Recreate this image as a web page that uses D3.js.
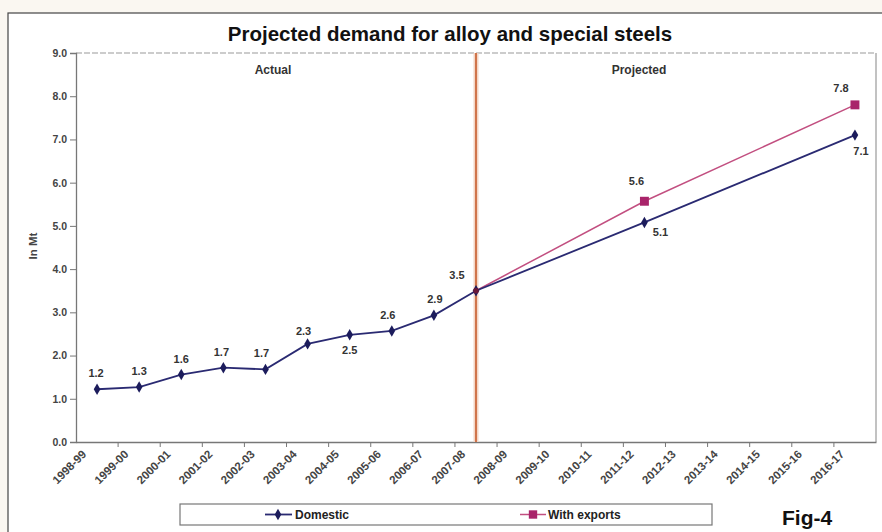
<!DOCTYPE html>
<html>
<head>
<meta charset="utf-8">
<script src="https://cdn.jsdelivr.net/npm/d3@7"></script>
<style>
  html, body { margin: 0; padding: 0; background: #faf7f1; }
  svg { display: block; }
  text { font-family: "Liberation Sans", Arial, sans-serif; }
</style>
</head>
<body>
<svg id="chart" width="882" height="532"></svg>
<script>
const categories = ["1998-99","1999-00","2000-01","2001-02","2002-03","2003-04","2004-05","2005-06","2006-07","2007-08","2008-09","2009-10","2010-11","2011-12","2012-13","2013-14","2014-15","2015-16","2016-17"];
const domestic = [1.22, 1.27, 1.56, 1.72, 1.68, 2.27, 2.48, 2.57, 2.93, 3.5, null, null, null, 5.08, null, null, null, null, 7.1];
const domesticLabels = ["1.2","1.3","1.6","1.7","1.7","2.3","2.5","2.6","2.9","3.5",null,null,null,"5.1",null,null,null,null,"7.1"];
const withExports = [null, null, null, null, null, null, null, null, null, 3.5, null, null, null, 5.57, null, null, null, null, 7.8];
const exportLabels = [null,null,null,null,null,null,null,null,null,null,null,null,null,"5.6",null,null,null,null,"7.8"];
const yTicks = [0,1,2,3,4,5,6,7,8,9];
const dividerCategory = "2007-08";

const svg = d3.select("#chart");
const L = 76, R = 876, T = 53, B = 442;
const FONT = "'Liberation Sans', Arial, sans-serif";

// outer frame
svg.append("rect").attr("x", 8).attr("y", 13).attr("width", 880).attr("height", 530)
  .attr("fill", "#ffffff").attr("stroke", "#444").attr("stroke-width", 1.2);

svg.append("text").attr("x", 450).attr("y", 41).attr("text-anchor", "middle")
  .attr("font-size", 20.5).attr("font-weight", "bold").attr("fill", "#111")
  .text("Projected demand for alloy and special steels");

const x = d3.scaleBand().domain(categories).range([L, R]).padding(0);
const y = d3.scaleLinear().domain([0, 9]).range([B, T]);
const cx = c => x(c) + x.bandwidth() / 2;

// plot frame
svg.append("line").attr("x1", L).attr("x2", R).attr("y1", T).attr("y2", T)
  .attr("stroke", "#999").attr("stroke-width", 1.2).attr("stroke-dasharray", "6,2");
svg.append("line").attr("x1", R).attr("x2", R).attr("y1", T).attr("y2", B)
  .attr("stroke", "#999").attr("stroke-width", 1.2);

// y axis
const yAxis = svg.append("g").attr("transform", `translate(${L},0)`)
  .call(d3.axisLeft(y).tickValues(yTicks).tickFormat(d3.format(".1f")).tickSize(6).tickPadding(3));
yAxis.select(".domain").attr("stroke", "#777").attr("stroke-width", 1.3);
yAxis.selectAll(".tick line").attr("stroke", "#777");
yAxis.selectAll(".tick text").attr("font-size", 10.5).attr("font-weight", "bold").attr("fill", "#444")
  .attr("font-family", FONT);

// x axis
const xAxis = svg.append("g").attr("transform", `translate(0,${B})`)
  .call(d3.axisBottom(x).tickSize(0).tickPadding(0));
xAxis.select(".domain").attr("stroke", "#777").attr("stroke-width", 1.3);
xAxis.selectAll(".tick text")
  .attr("font-size", 11.5).attr("font-weight", "bold").attr("fill", "#444")
  .attr("font-family", FONT)
  .attr("text-anchor", "end").attr("dy", 0)
  .attr("transform", "translate(-10,13) rotate(-45)");
// tick marks at band edges
svg.append("g").selectAll("line").data(categories.slice(1)).join("line")
  .attr("x1", d => x(d)).attr("x2", d => x(d)).attr("y1", B).attr("y2", B + 5)
  .attr("stroke", "#777");

// y axis title
svg.append("text").attr("transform", "translate(37,246) rotate(-90)")
  .attr("text-anchor", "middle").attr("font-size", 11.5).attr("font-weight", "bold").attr("fill", "#444")
  .text("In Mt");

// divider
const dx = cx(dividerCategory);
svg.append("line").attr("x1", dx).attr("x2", dx).attr("y1", T).attr("y2", B)
  .attr("stroke", "#f3d6c6").attr("stroke-width", 5);
svg.append("line").attr("x1", dx).attr("x2", dx).attr("y1", T).attr("y2", B)
  .attr("stroke", "#cc6a3e").attr("stroke-width", 1.8);

svg.append("text").attr("x", 273).attr("y", 74).attr("text-anchor", "middle")
  .attr("font-size", 12).attr("font-weight", "bold").attr("fill", "#333").text("Actual");
svg.append("text").attr("x", 639).attr("y", 74).attr("text-anchor", "middle")
  .attr("font-size", 12).attr("font-weight", "bold").attr("fill", "#333").text("Projected");

const domPts = categories.map((c, i) => ({c, v: domestic[i], lab: domesticLabels[i], i})).filter(d => d.v != null);
const expPts = categories.map((c, i) => ({c, v: withExports[i], lab: exportLabels[i], i})).filter(d => d.v != null);

const line = d3.line().x(d => cx(d.c)).y(d => y(d.v));

svg.append("path").attr("d", line(expPts)).attr("fill", "none")
  .attr("stroke", "#c24f80").attr("stroke-width", 1.5);
svg.append("path").attr("d", line(domPts)).attr("fill", "none")
  .attr("stroke", "#2a2a72").attr("stroke-width", 1.8);

svg.append("g").selectAll("path").data(domPts).join("path")
  .attr("transform", d => `translate(${cx(d.c)},${y(d.v)})`)
  .attr("d", d3.symbol().type(d3.symbolDiamond).size(38))
  .attr("fill", "#1c1c5c");
svg.append("g").selectAll("path").data(expPts.filter(d => d.lab)).join("path")
  .attr("transform", d => `translate(${cx(d.c)},${y(d.v)})`)
  .attr("d", d3.symbol().type(d3.symbolSquare).size(80))
  .attr("fill", "#a9246a");
// shared point marker
svg.append("g").selectAll("circle").data(expPts.filter(d => !d.lab)).join("circle")
  .attr("cx", d => cx(d.c)).attr("cy", d => y(d.v)).attr("r", 2.8).attr("fill", "#6a1838");

// data label offsets [dx, dy] by category index
const domOffsets = {0:[-1,-12],1:[0,-12],2:[0,-12],3:[-2,-12],4:[-4,-12],5:[-4,-9],6:[0,19],7:[-4,-12],8:[1,-12],9:[-19,-12],13:[16,14],18:[6,20]};
const expOffsets = {13:[-8,-16],18:[-14,-13]};
svg.append("g").selectAll("text").data(domPts).join("text")
  .attr("x", d => cx(d.c) + domOffsets[d.i][0])
  .attr("y", d => y(d.v) + domOffsets[d.i][1])
  .attr("text-anchor", "middle").attr("font-size", 11).attr("fill", "#333").attr("font-weight", "bold")
  .text(d => d.lab);
svg.append("g").selectAll("text").data(expPts.filter(d => d.lab)).join("text")
  .attr("x", d => cx(d.c) + expOffsets[d.i][0]).attr("y", d => y(d.v) + expOffsets[d.i][1])
  .attr("text-anchor", "middle").attr("font-size", 11).attr("fill", "#333").attr("font-weight", "bold")
  .text(d => d.lab);

// legend
svg.append("rect").attr("x", 180).attr("y", 504).attr("width", 532).attr("height", 21)
  .attr("fill", "#fff").attr("stroke", "#777").attr("stroke-width", 1.2);
svg.append("line").attr("x1", 265).attr("x2", 292).attr("y1", 514.5).attr("y2", 514.5)
  .attr("stroke", "#2a2a72").attr("stroke-width", 1.8);
svg.append("path").attr("transform", "translate(278,514.5)")
  .attr("d", d3.symbol().type(d3.symbolDiamond).size(38)).attr("fill", "#1c1c5c");
svg.append("text").attr("x", 295).attr("y", 519).attr("font-size", 12).attr("font-weight", "bold")
  .attr("fill", "#222").text("Domestic");
svg.append("line").attr("x1", 520).attr("x2", 546).attr("y1", 514.5).attr("y2", 514.5)
  .attr("stroke", "#c24f80").attr("stroke-width", 1.5);
svg.append("path").attr("transform", "translate(533,514.5)")
  .attr("d", d3.symbol().type(d3.symbolSquare).size(70)).attr("fill", "#a9246a");
svg.append("text").attr("x", 548).attr("y", 519).attr("font-size", 12).attr("font-weight", "bold")
  .attr("fill", "#222").text("With exports");

svg.append("text").attr("x", 782).attr("y", 525).attr("font-size", 21).attr("font-weight", "bold")
  .attr("fill", "#111").text("Fig-4");
</script>
</body>
</html>
